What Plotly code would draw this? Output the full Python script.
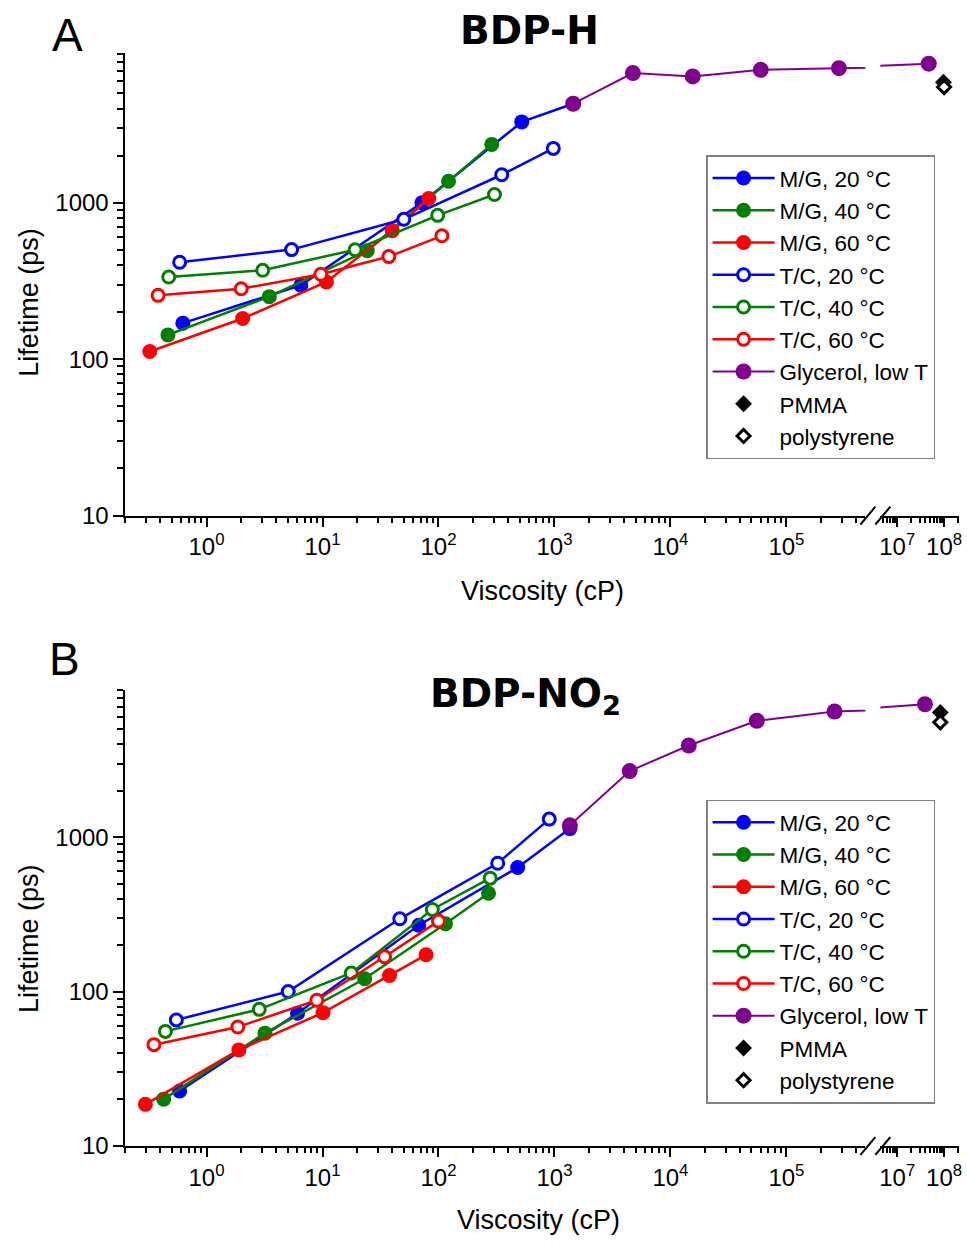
import math
import plotly.graph_objects as go

W, H = 967, 1249
FONT = "Liberation Sans, Arial, sans-serif"
TITLE_FONT = "DejaVu Sans, Verdana, sans-serif"

# ---------------- data: panel A (BDP-H) ----------------
a_mg20_x = [0.625, 6.5, 72, 522, 1450]
a_mg20_y = [170, 297, 1000, 3290, 4300]
a_mg40_x = [0.465, 3.48, 24.3, 122, 288]
a_mg40_y = [143, 251, 494, 1372, 2362]
a_mg60_x = [0.324, 2.05, 10.8, 39.9, 82.4]
a_mg60_y = [112, 182, 312, 662, 1065]
a_tc20_x = [0.586, 5.41, 50.2, 351, 977]
a_tc20_y = [417, 502, 784, 1511, 2228]
a_tc40_x = [0.472, 3.05, 19.1, 98.4, 304]
a_tc40_y = [335, 370, 501, 831, 1129]
a_tc60_x = [0.382, 1.99, 9.67, 37.3, 107]
a_tc60_y = [256, 282, 349, 453, 615]
a_gly_x = [1450, 4750, 15560, 60100, 283700, 4.7e7]
a_gly_y = [4300, 6750, 6430, 7080, 7260, 7760]
a_pmma_x = [9.7e7]
a_pmma_y = [5900]
a_ps_x = [1.0e8]
a_ps_y = [5500]

# ---------------- data: panel B (BDP-NO2) ----------------
b_mg20_x = [0.586, 6.09, 67.6, 482, 1358]
b_mg20_y = [22.7, 72.3, 269, 636, 1137]
b_mg40_x = [0.427, 3.19, 23.1, 115, 270]
b_mg40_y = [20.1, 53.8, 121, 275, 433]
b_mg60_x = [0.297, 1.90, 10.1, 37.8, 78.1]
b_mg60_y = [18.6, 41.9, 73.0, 127, 173]
b_tc20_x = [0.549, 5.06, 46.4, 324, 902]
b_tc20_y = [65.5, 100, 296, 678, 1310]
b_tc40_x = [0.442, 2.85, 17.7, 88.5, 279]
b_tc40_y = [55.2, 76.7, 132, 340, 543]
b_tc60_x = [0.352, 1.86, 8.93, 34.3, 100]
b_tc60_y = [45.3, 59.0, 87.9, 168, 286]
b_gly_x = [1358, 4455, 14390, 55600, 260000, 3.9e7]
b_gly_y = [1194, 2681, 3926, 5676, 6515, 7260]
b_pmma_x = [8.3e7]
b_pmma_y = [6430]
b_ps_x = [8.3e7]
b_ps_y = [5550]

# ---------------- series labels / tick labels ----------------
series_names = ["M/G, 20 °C", "M/G, 40 °C", "M/G, 60 °C",
                "T/C, 20 °C", "T/C, 40 °C", "T/C, 60 °C"]
glycerol_name = "Glycerol, low T"
pmma_name = "PMMA"
ps_name = "polystyrene"
panel_titles = ["BDP-H", "BDP-NO<sub>2</sub>"]
panel_letters = ["A", "B"]
x_title = "Viscosity (cP)"
y_title = "Lifetime (ps)"

x_left_ticks = [1, 10, 100, 1e3, 1e4, 1e5]
x_left_ticktext = ["10<sup>0</sup>", "10<sup>1</sup>", "10<sup>2</sup>",
                   "10<sup>3</sup>", "10<sup>4</sup>", "10<sup>5</sup>"]
x_right_ticks = [1e7, 1e8]
x_right_ticktext = ["10<sup>7</sup>", "10<sup>8</sup>"]
y_ticks = [10, 100, 1000]
y_ticktext = ["10", "100", "1000"]

BLUE, GREEN, RED, PURPLE = "#0000ff", "#008000", "#ff0000", "#800090"
series_colors = [BLUE, GREEN, RED, BLUE, GREEN, RED]
series_filled = [True, True, True, False, False, False]

panels = [
    dict(series=[(a_mg20_x, a_mg20_y), (a_mg40_x, a_mg40_y), (a_mg60_x, a_mg60_y),
                 (a_tc20_x, a_tc20_y), (a_tc40_x, a_tc40_y), (a_tc60_x, a_tc60_y)],
         gly=(a_gly_x, a_gly_y), pmma=(a_pmma_x, a_pmma_y), ps=(a_ps_x, a_ps_y),
         top=54, bottom=521, legend_top=157),
    dict(series=[(b_mg20_x, b_mg20_y), (b_mg40_x, b_mg40_y), (b_mg60_x, b_mg60_y),
                 (b_tc20_x, b_tc20_y), (b_tc40_x, b_tc40_y), (b_tc60_x, b_tc60_y)],
         gly=(b_gly_x, b_gly_y), pmma=(b_pmma_x, b_pmma_y), ps=(b_ps_x, b_ps_y),
         top=697, bottom=1158, legend_top=808),
]

# pixel -> paper helpers
def fx(p):
    return p / W


def fy(p):
    return 1 - p / H


LEFT_X0, LEFT_X1 = 125, 868     # left (broken) x segment
RIGHT_X0, RIGHT_X1 = 883, 962   # right x segment after the break


def minor_vals(e0, e1):
    return [m * 10 ** e for e in range(e0, e1 + 1) for m in range(2, 10)]


axis_style = dict(
    type="log", showline=True, linecolor="black", linewidth=2,
    ticks="outside", ticklen=9, tickwidth=2, tickcolor="black",
    showgrid=False, zeroline=False, mirror=False,
    tickfont=dict(family=FONT, size=24, color="black"),
    tickmode="array",
)

fig = go.Figure()
layout = dict(
    width=W, height=H,
    margin=dict(l=0, r=0, t=0, b=0),
    paper_bgcolor="white", plot_bgcolor="white",
    font=dict(family=FONT, color="black"),
    annotations=[], shapes=[],
)

for i, P in enumerate(panels):
    xl = "x" if i == 0 else "x3"
    xr = "x2" if i == 0 else "x4"
    ya = "y" if i == 0 else "y2"
    lg = "legend" if i == 0 else "legend2"

    for name, (xs, ys), col, filled in zip(series_names, P["series"], series_colors, series_filled):
        if filled:
            marker = dict(symbol="circle", size=15, color=col, line=dict(width=0))
        else:
            marker = dict(symbol="circle", size=12, color="white", line=dict(width=3, color=col))
        fig.add_trace(go.Scatter(
            x=xs, y=ys, name=name, mode="lines+markers",
            line=dict(color=col, width=2.5), marker=marker,
            xaxis=xl, yaxis=ya, legend=lg,
        ))

    gx, gy = P["gly"]
    gly_marker = dict(symbol="circle", size=16, color=PURPLE, line=dict(width=0))
    # glycerol drawn on both sides of the axis break; each side clips its own part
    fig.add_trace(go.Scatter(
        x=gx, y=gy, name=glycerol_name, mode="lines+markers",
        line=dict(color=PURPLE, width=2), marker=gly_marker,
        xaxis=xl, yaxis=ya, legend=lg,
    ))
    fig.add_trace(go.Scatter(
        x=gx, y=gy, name=glycerol_name, mode="lines+markers",
        line=dict(color=PURPLE, width=2), marker=gly_marker,
        xaxis=xr, yaxis=ya, legend=lg, showlegend=False,
    ))
    fig.add_trace(go.Scatter(
        x=P["pmma"][0], y=P["pmma"][1], name=pmma_name, mode="markers",
        marker=dict(symbol="diamond", size=13, color="black", line=dict(width=0)),
        xaxis=xr, yaxis=ya, legend=lg,
    ))
    fig.add_trace(go.Scatter(
        x=P["ps"][0], y=P["ps"][1], name=ps_name, mode="markers",
        marker=dict(symbol="diamond", size=10, color="white", line=dict(width=3, color="black")),
        xaxis=xr, yaxis=ya, legend=lg,
    ))

    ydom = [fy(P["bottom"]), fy(P["top"])]
    xl_key = "xaxis" if i == 0 else "xaxis3"
    xr_key = "xaxis2" if i == 0 else "xaxis4"
    y_key = "yaxis" if i == 0 else "yaxis2"

    minor_common = dict(ticks="outside", ticklen=5, tickwidth=1.5, tickcolor="black",
                        showgrid=False, tickmode="array")
    layout[xl_key] = dict(
        axis_style, domain=[fx(LEFT_X0), fx(LEFT_X1)], anchor=ya,
        range=[math.log10(0.2), math.log10(4.8e5)],
        tickvals=x_left_ticks, ticktext=x_left_ticktext,
        minor=dict(minor_common, tickvals=minor_vals(-1, 5)),
    )
    layout[xr_key] = dict(
        axis_style, domain=[fx(RIGHT_X0), fx(RIGHT_X1)], anchor=ya,
        range=[6.638, 8.319],
        tickvals=x_right_ticks, ticktext=x_right_ticktext,
        minor=dict(minor_common, tickvals=minor_vals(6, 8)),
    )
    layout[y_key] = dict(
        axis_style, domain=ydom, anchor=xl,
        range=[1, 3.955], ticklen=10,
        tickvals=y_ticks, ticktext=y_ticktext,
        minor=dict(minor_common, ticklen=6, tickvals=minor_vals(1, 3)),
    )

    layout[lg] = dict(
        x=fx(708), y=fy(P["legend_top"]), xanchor="left", yanchor="top",
        bgcolor="white", bordercolor="#808080", borderwidth=1.5,
        font=dict(family=FONT, size=22.5, color="black"),
        itemwidth=62, tracegroupgap=0,
    )

    # axis-break marks
    ay = P["bottom"]
    for xe in (LEFT_X1 + 2.5, RIGHT_X0 + 2.5):
        layout["shapes"].append(dict(
            type="line", xref="paper", yref="paper",
            x0=fx(xe - 7.5), y0=fy(ay + 9), x1=fx(xe + 7.5), y1=fy(ay - 9),
            line=dict(color="black", width=2),
        ))

    off = P["top"] - 54
    ann = layout["annotations"]
    ann.append(dict(text=panel_letters[i], x=fx(67 if i == 0 else 64),
                    y=fy(35 if i == 0 else 666), xref="paper", yref="paper",
                    showarrow=False, xanchor="center", yanchor="middle",
                    font=dict(family=FONT, size=46, color="black")))
    ann.append(dict(text="<b>%s</b>" % panel_titles[i], x=fx(531 if i == 0 else 527),
                    y=fy(31 if i == 0 else 703), xref="paper", yref="paper",
                    showarrow=False, xanchor="center", yanchor="middle",
                    font=dict(family=TITLE_FONT, size=39, color="black")))
    ann.append(dict(text=y_title, x=fx(28), y=fy(305 + off), xref="paper", yref="paper",
                    showarrow=False, xanchor="center", yanchor="middle", textangle=-90,
                    font=dict(family=FONT, size=27, color="black")))
    ann.append(dict(text=x_title, x=fx(544 if i == 0 else 540),
                    y=fy(597 if i == 0 else 1233), xref="paper", yref="paper",
                    showarrow=False, xanchor="center", yanchor="middle",
                    font=dict(family=FONT, size=27, color="black")))

fig.update_layout(**layout)
fig.write_html("out.html")
